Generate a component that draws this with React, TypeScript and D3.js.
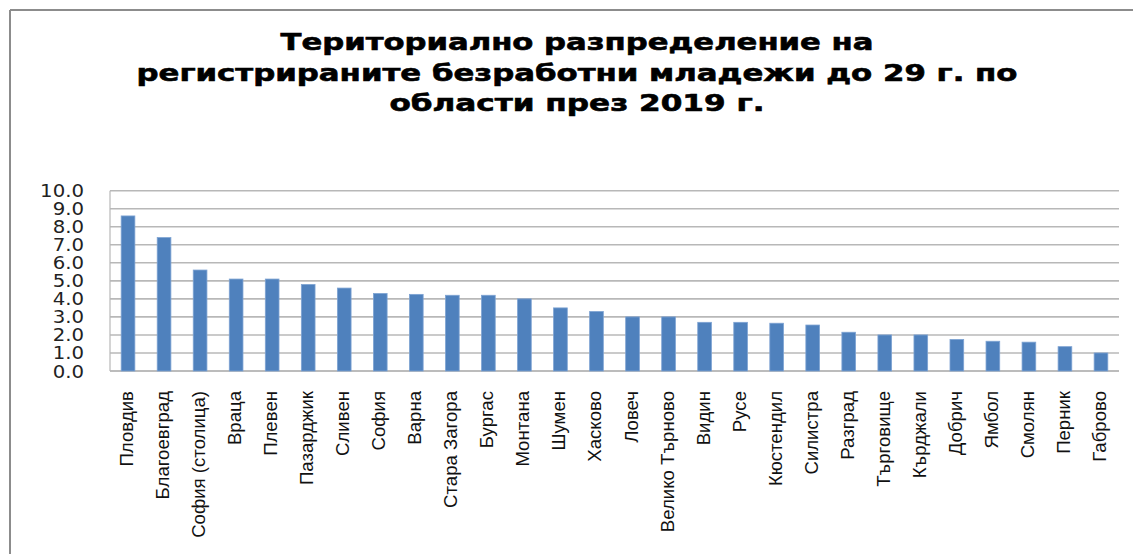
import React from "react";
import { scaleBand, scaleLinear, range } from "d3";

// области
const regions = [
  "Пловдив",
  "Благоевград",
  "София (столица)",
  "Враца",
  "Плевен",
  "Пазарджик",
  "Сливен",
  "София",
  "Варна",
  "Стара Загора",
  "Бургас",
  "Монтана",
  "Шумен",
  "Хасково",
  "Ловеч",
  "Велико Търново",
  "Видин",
  "Русе",
  "Кюстендил",
  "Силистра",
  "Разград",
  "Търговище",
  "Кърджали",
  "Добрич",
  "Ямбол",
  "Смолян",
  "Перник",
  "Габрово",
];

// дял на безработните младежи (%)
const shares = [
  8.6, 7.4, 5.6, 5.1, 5.1, 4.8, 4.6, 4.3, 4.25, 4.2, 4.2, 4.0, 3.5, 3.3, 3.0,
  3.0, 2.7, 2.7, 2.65, 2.55, 2.15, 2.0, 2.0, 1.75, 1.65, 1.6, 1.35, 1.0,
];

const yTicks = range(0, 11);

const titleLines = [
  "Териториално разпределение на",
  "регистрираните безработни младежи до 29 г. по",
  "области през 2019 г.",
];

const W = 1133;
const H = 554;

const App = () => {
  // граници на графиката
  const left = 110;
  const right = 1119;
  const top = 190.7;
  const bottom = 371;

  const x = scaleBand<string>()
    .domain(regions)
    .range([left, right])
    .paddingInner(0.62)
    .paddingOuter(0.31);

  const y = scaleLinear().domain([0, 10]).range([bottom, top]);

  const titleBaselines = [50, 80.5, 111];
  const titleWidths = [593, 881, 375];

  return (
    <svg
      width={W}
      height={H}
      style={{ position: "absolute", left: 0, top: 0, background: "#fff" }}
    >
      {/* рамка */}
      <line x1={10} y1={10} x2={W} y2={10} stroke="#8c8c8c" strokeWidth={2} />
      <line x1={10} y1={10} x2={10} y2={H} stroke="#8c8c8c" strokeWidth={2} />

      {/* заглавие */}
      {titleLines.map((t, i) => (
        <text
          key={i}
          x={577}
          y={titleBaselines[i]}
          textAnchor="middle"
          fontFamily="DejaVu Sans"
          fontWeight="bold"
          fontSize={23}
          textLength={titleWidths[i]}
          lengthAdjust="spacingAndGlyphs"
          fill="#000"
          stroke="#000"
          strokeWidth={0.6}
        >
          {t}
        </text>
      ))}

      {/* мрежа */}
      {yTicks.map((t) => (
        <line
          key={t}
          x1={left}
          x2={right}
          y1={y(t)}
          y2={y(t)}
          stroke={t === 0 ? "#a6a6a6" : "#b8b8b8"}
          strokeWidth={1.6}
        />
      ))}
      <line x1={left} x2={left} y1={top} y2={bottom} stroke="#b8b8b8" strokeWidth={1.2} />

      {/* стойности по оста y */}
      {yTicks.map((t) => (
        <text
          key={t}
          transform={`translate(84,${y(t) + 6.5}) scale(1.16,1.04)`}
          textAnchor="end"
          fontFamily="DejaVu Sans"
          fontSize={17}
          fill="#222"
        >
          {t.toFixed(1)}
        </text>
      ))}

      {/* стълбове */}
      {regions.map((r, i) => (
        <rect
          key={r}
          x={x(r)}
          y={y(shares[i])}
          width={x.bandwidth()}
          height={bottom - y(shares[i])}
          fill="#4f81bd"
          stroke="#7ea3d3"
          strokeWidth={0.8}
        />
      ))}

      {/* имена на областите */}
      {regions.map((r) => (
        <text
          key={r}
          transform={`translate(${(x(r) || 0) + x.bandwidth() / 2 + 5},391) rotate(-90)`}
          textAnchor="end"
          fontFamily="Liberation Sans"
          fontSize={18.6}
          fill="#111"
        >
          {r}
        </text>
      ))}
    </svg>
  );
};

export default App;
